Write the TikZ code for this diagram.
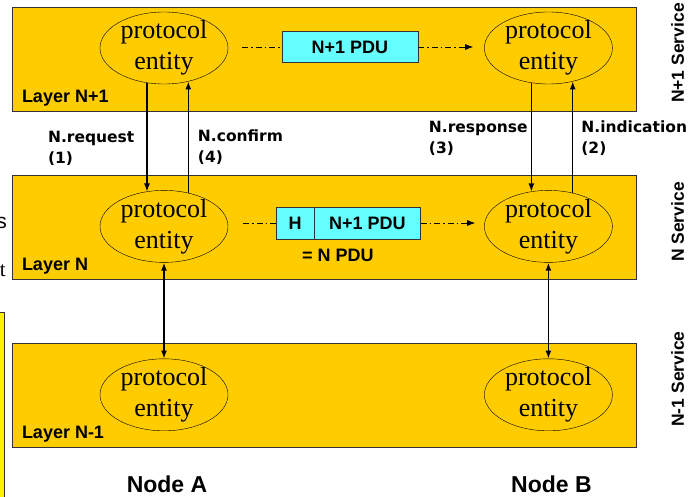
\documentclass[tikz,border=0pt]{standalone}
\usepackage{fontspec}
\setmainfont{Liberation Serif}
\setsansfont{Liberation Sans}
\newfontfamily\primfont{DejaVu Sans}
\usetikzlibrary{positioning,shapes.geometric,arrows.meta}
\definecolor{layerfill}{HTML}{FFCC00}
\definecolor{pducyan}{HTML}{66FFFF}
\begin{document}
\begin{tikzpicture}[x=1pt, y=-1pt, node distance=0pt,
	layer/.style = {draw=black!80, fill=layerfill, minimum width=624pt, minimum height=104pt, inner sep=0pt},
	entity/.style = {draw, ellipse, minimum width=128pt, minimum height=72pt, inner xsep=0pt, inner ysep=-6pt, align=center, font=\fontsize{26}{31}\selectfont, execute at begin node={\rule{0pt}{25pt}}},
	pdu/.style = {draw=black!80, fill=pducyan, minimum height=31pt, inner sep=0pt, font=\sffamily\bfseries\fontsize{18}{20}\selectfont},
	lname/.style = {inner sep=0pt, font=\sffamily\bfseries\fontsize{18}{20}\selectfont},
	nname/.style = {inner sep=0pt, font=\sffamily\bfseries\fontsize{23}{26}\selectfont},
	prim/.style = {inner sep=0pt, align=left, font=\primfont\bfseries\fontsize{15.5}{21}\selectfont},
	service/.style = {inner sep=0pt, rotate=90, font=\sffamily\bfseries\fontsize{17.5}{20}\selectfont},
	flow/.style = {line width=1.3pt, -{Latex[length=8pt,width=6pt]}},
	link/.style = {line width=1.5pt, {Latex[length=8pt,width=6pt]}-{Latex[length=8pt,width=6pt]}},
	peer/.style = {line width=0.8pt, dash pattern=on 6pt off 3pt on 1.5pt off 3pt}]
	\fill[white] (0,0) rectangle (689,497);
	\useasboundingbox (0,0) rectangle (689,497);
	% cut-off parts of the slide on the left
	\draw[black!80, fill=yellow] (-20,312) rectangle (4,520);
	\node[inner sep=0pt, anchor=base east, font=\sffamily\fontsize{21}{24}\selectfont] (cutS) at (7,229) {s};
	\node[inner sep=0pt, anchor=base east, font=\fontsize{21}{24}\selectfont] (cutT) at (6,277) {t};
	% layers
	\node[layer] (L1) at (324,59) {};
	\node[layer] (L2) at (324,227) {};
	\node[layer] (L3) at (324,395) {};
	\node[lname, anchor=base west] (nL1) at ([shift={(10,-9)}]L1.south west) {Layer N+1};
	\node[lname, anchor=base west] (nL2) at ([shift={(10,-9)}]L2.south west) {Layer N};
	\node[lname, anchor=base west] (nL3) at ([shift={(10,-9)}]L3.south west) {Layer N-1};
	% protocol entities
	\node[entity] (eA1) at (164,48) {protocol\\entity};
	\node[entity, right=256pt of eA1] (eB1) {protocol\\entity};
	\node[entity, below=106pt of eA1] (eA2) {protocol\\entity};
	\node[entity, below=106pt of eB1] (eB2) {protocol\\entity};
	\node[entity, below=96pt of eA2] (eA3) {protocol\\entity};
	\node[entity, below=96pt of eB2] (eB3) {protocol\\entity};
	% PDUs
	\node[pdu, minimum width=136pt] (pdu1) at (350,47) {N+1 PDU};
	\node[pdu, minimum width=38pt, minimum height=32pt] (hN) at (295,223) {H};
	\node[pdu, minimum width=106pt, minimum height=32pt, right=of hN] (pduN) {N+1 PDU};
	\node[lname, below right=10pt and 26pt of hN.south west] (eqN) {= N PDU};
	\draw[peer, shorten <=14pt] (pdu1.west -| eA1.east) -- (pdu1.west);
	\draw[peer, -{Latex[length=8pt,width=6pt]}, shorten >=11pt] (pdu1.east) -- (pdu1.east -| eB1.west);
	\draw[peer, shorten <=15pt] (hN.west -| eA2.east) -- (hN.west);
	\draw[peer, -{Latex[length=8pt,width=6pt]}, shorten >=9pt] (pduN.east) -- (pduN.east -| eB2.west);
	% service primitives
	\draw[flow] (eA1.-116) -- node[prim, left=12pt, pos=.6] (pReq) {N.request\\(1)} (eA2.116);
	\draw[flow] (eA2.54.3) -- node[prim, right=9pt, pos=.41] (pCon) {N.confirm\\(4)} (eA1.-54.3);
	\draw[flow] (eB1.-116) -- node[prim, left=3pt, pos=.51] (pRes) {N.response\\(3)} (eB2.116);
	\draw[flow] (eB2.54.3) -- node[prim, right=8pt, pos=.49] (pInd) {N.indication\\(2)} (eB1.-54.3);
	\draw[link] (eA2) -- (eA3);
	\draw[link] (eB2) -- (eB3);
	% nodes and services
	\node[nname, below=45pt of eA3, xshift=3pt] (nA) {Node A};
	\node[nname, below=45pt of eB3, xshift=3pt] (nB) {Node B};
	\node[service] (sN1) at ([shift={(41.5,-6)}]L1.east) {N+1 Service};
	\node[service] (sN) at ([shift={(41.5,-5)}]L2.east) {N Service};
	\node[service] (sN0) at ([shift={(41.5,-16)}]L3.east) {N-1 Service};
\end{tikzpicture}
\end{document}
